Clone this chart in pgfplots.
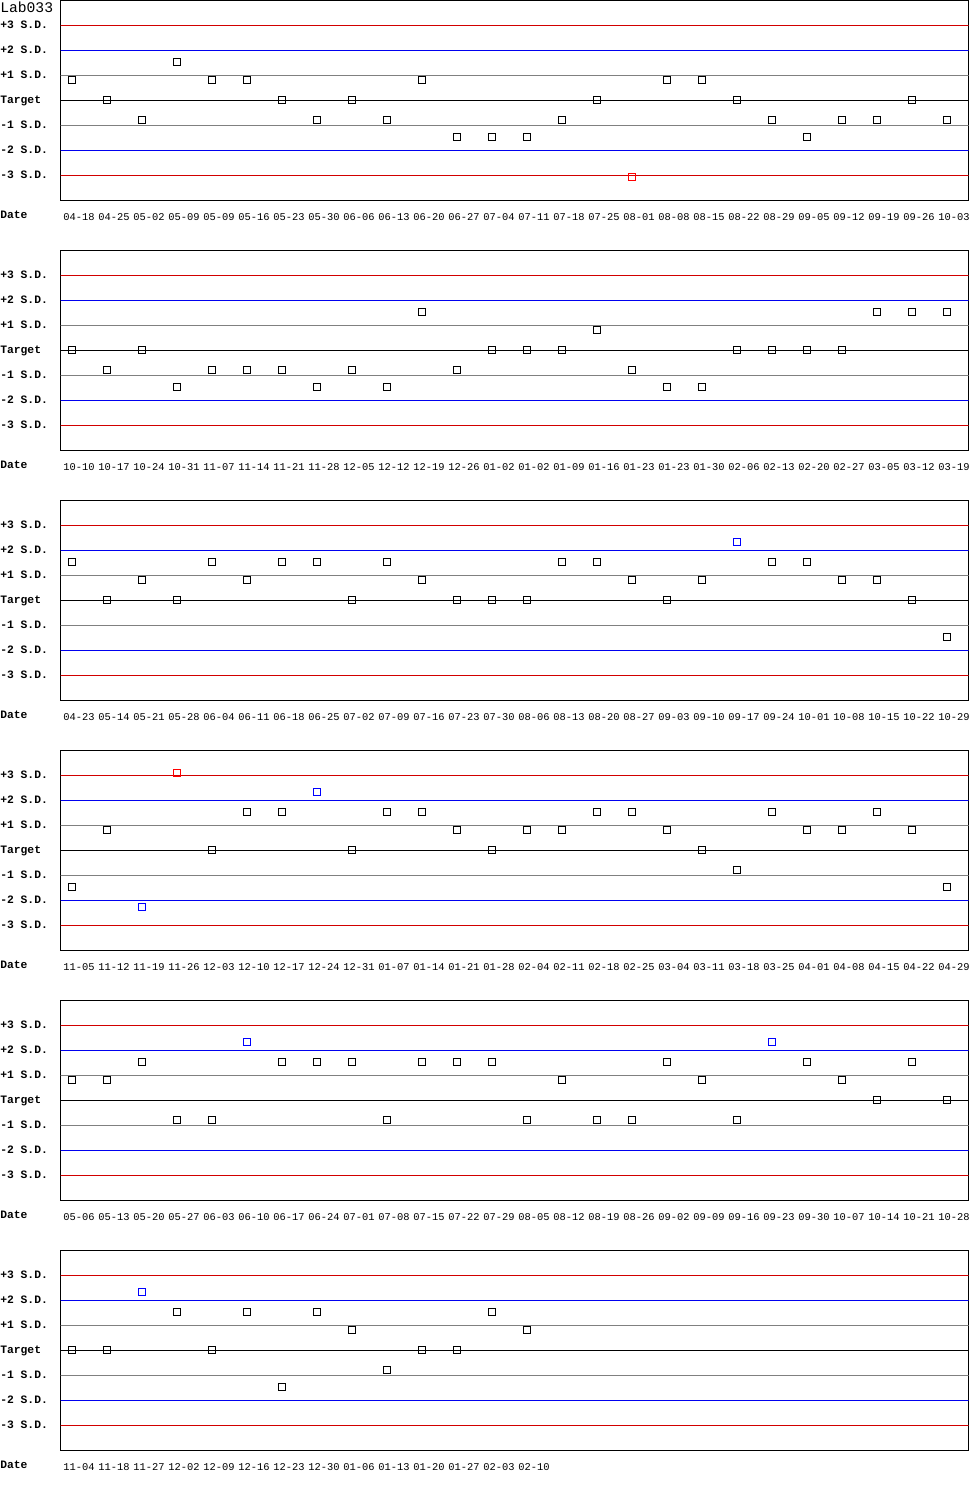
\documentclass[border=0pt]{standalone}
\usepackage{pgfplots}
\usepackage{pgfplotstable}
\usepackage{fontspec}
\pgfplotsset{compat=1.18}
\newfontfamily\mono{Liberation Mono}
\definecolor{sdred}{RGB}{210,0,0}
\definecolor{sdblue}{RGB}{0,0,240}
\definecolor{sdgray}{RGB}{128,128,128}

% one table per panel: x = run index, y = value in S.D., c = class (n/b/r)
\pgfplotstableread{
x y c
0 0.8 n
1 0 n
2 -0.8 n
3 1.52 n
4 0.8 n
5 0.8 n
6 0 n
7 -0.8 n
8 0 n
9 -0.8 n
10 0.8 n
11 -1.48 n
12 -1.48 n
13 -1.48 n
14 -0.8 n
15 0 n
16 -3.08 r
17 0.8 n
18 0.8 n
19 0 n
20 -0.8 n
21 -1.48 n
22 -0.8 n
23 -0.8 n
24 0 n
25 -0.8 n
}\tabA
\pgfplotstableread{
x y c
0 0 n
1 -0.8 n
2 0 n
3 -1.48 n
4 -0.8 n
5 -0.8 n
6 -0.8 n
7 -1.48 n
8 -0.8 n
9 -1.48 n
10 1.52 n
11 -0.8 n
12 0 n
13 0 n
14 0 n
15 0.8 n
16 -0.8 n
17 -1.48 n
18 -1.48 n
19 0 n
20 0 n
21 0 n
22 0 n
23 1.52 n
24 1.52 n
25 1.52 n
}\tabB
\pgfplotstableread{
x y c
0 1.52 n
1 0 n
2 0.8 n
3 0 n
4 1.52 n
5 0.8 n
6 1.52 n
7 1.52 n
8 0 n
9 1.52 n
10 0.8 n
11 0 n
12 0 n
13 0 n
14 1.52 n
15 1.52 n
16 0.8 n
17 0 n
18 0.8 n
19 2.32 b
20 1.52 n
21 1.52 n
22 0.8 n
23 0.8 n
24 0 n
25 -1.48 n
}\tabC
\pgfplotstableread{
x y c
0 -1.48 n
1 0.8 n
2 -2.28 b
3 3.1 r
4 0 n
5 1.52 n
6 1.52 n
7 2.32 b
8 0 n
9 1.52 n
10 1.52 n
11 0.8 n
12 0 n
13 0.8 n
14 0.8 n
15 1.52 n
16 1.52 n
17 0.8 n
18 0 n
19 -0.8 n
20 1.52 n
21 0.8 n
22 0.8 n
23 1.52 n
24 0.8 n
25 -1.48 n
}\tabD
\pgfplotstableread{
x y c
0 0.8 n
1 0.8 n
2 1.52 n
3 -0.8 n
4 -0.8 n
5 2.32 b
6 1.52 n
7 1.52 n
8 1.52 n
9 -0.8 n
10 1.52 n
11 1.52 n
12 1.52 n
13 -0.8 n
14 0.8 n
15 -0.8 n
16 -0.8 n
17 1.52 n
18 0.8 n
19 -0.8 n
20 2.32 b
21 1.52 n
22 0.8 n
23 0 n
24 1.52 n
25 0 n
}\tabE
\pgfplotstableread{
x y c
0 0 n
1 0 n
2 2.32 b
3 1.52 n
4 0 n
5 1.52 n
6 -1.48 n
7 1.52 n
8 0.8 n
9 -0.8 n
10 0 n
11 0 n
12 1.52 n
13 0.8 n
}\tabF

\pgfplotsset{
  qc/.style={
    scale only axis, width=681pt, height=150pt,
    xmin=-0.3286, xmax=25.614, ymin=-4, ymax=4,
    axis line style={line width=0.75pt},
    ytick={3,2,1,0,-1,-2,-3},
    yticklabels={+3 S.D.,+2 S.D.,+1 S.D.,Target,-1 S.D.,-2 S.D.,-3 S.D.},
    yticklabel style={font=\mono\bfseries\fontsize{8.5}{10}\selectfont,
      anchor=west, inner sep=0pt, xshift=-45.375pt, yshift=0.375pt,
      text height=5.6pt, text depth=0pt},
    xtick={0,...,25},
    xticklabel style={font=\mono\fontsize{7.8}{10}\selectfont,
      anchor=center, inner sep=0pt, xshift=5.25pt, yshift=-12.75pt,
      text height=5.2pt, text depth=0pt},
    major tick length=0pt,
    tick style={draw=none},
    scatter/classes={
      n={mark=square, draw=black},
      b={mark=square, draw=blue},
      r={mark=square, draw=red}},
  }
}

% #1 top of panel in pt, #2 table, #3 date labels
\newcommand\panel[3]{
  \begin{axis}[qc, at={(45.375pt,-#1pt)}, anchor=north west, xticklabels={#3}]
    \addplot[sdred, line width=0.75pt] coordinates {(-1,3) (27,3)};
    \addplot[sdblue, line width=0.75pt] coordinates {(-1,2) (27,2)};
    \addplot[sdgray, line width=0.75pt] coordinates {(-1,1) (27,1)};
    \addplot[black, line width=0.75pt] coordinates {(-1,0) (27,0)};
    \addplot[sdgray, line width=0.75pt] coordinates {(-1,-1) (27,-1)};
    \addplot[sdblue, line width=0.75pt] coordinates {(-1,-2) (27,-2)};
    \addplot[sdred, line width=0.75pt] coordinates {(-1,-3) (27,-3)};
    \addplot[scatter, only marks, scatter src=explicit symbolic,
      mark size=2.625pt, mark options={line width=0.75pt, fill=none}]
      table[x=x, y=y, meta=c] {#2};
  \end{axis}
  \node[anchor=west, inner sep=0pt, text height=5.6pt, text depth=0pt,
    font=\mono\bfseries\fontsize{8.5}{10}\selectfont]
    at (0pt,{-(#1+160.875)*1pt}) {Date};
}

\begin{document}
\begin{tikzpicture}
\useasboundingbox (0,0) rectangle (727.5pt,-1125pt);
\node[anchor=base west, inner sep=0pt, font=\mono\fontsize{11}{13}\selectfont]
  at (0pt,-9.5pt) {Lab033};
\panel{0}{\tabA}{04-18,04-25,05-02,05-09,05-09,05-16,05-23,05-30,06-06,06-13,06-20,06-27,07-04,07-11,07-18,07-25,08-01,08-08,08-15,08-22,08-29,09-05,09-12,09-19,09-26,10-03}
\panel{187.5}{\tabB}{10-10,10-17,10-24,10-31,11-07,11-14,11-21,11-28,12-05,12-12,12-19,12-26,01-02,01-02,01-09,01-16,01-23,01-23,01-30,02-06,02-13,02-20,02-27,03-05,03-12,03-19}
\panel{375}{\tabC}{04-23,05-14,05-21,05-28,06-04,06-11,06-18,06-25,07-02,07-09,07-16,07-23,07-30,08-06,08-13,08-20,08-27,09-03,09-10,09-17,09-24,10-01,10-08,10-15,10-22,10-29}
\panel{562.5}{\tabD}{11-05,11-12,11-19,11-26,12-03,12-10,12-17,12-24,12-31,01-07,01-14,01-21,01-28,02-04,02-11,02-18,02-25,03-04,03-11,03-18,03-25,04-01,04-08,04-15,04-22,04-29}
\panel{750}{\tabE}{05-06,05-13,05-20,05-27,06-03,06-10,06-17,06-24,07-01,07-08,07-15,07-22,07-29,08-05,08-12,08-19,08-26,09-02,09-09,09-16,09-23,09-30,10-07,10-14,10-21,10-28}
\panel{937.5}{\tabF}{11-04,11-18,11-27,12-02,12-09,12-16,12-23,12-30,01-06,01-13,01-20,01-27,02-03,02-10}
\end{tikzpicture}
\end{document}
